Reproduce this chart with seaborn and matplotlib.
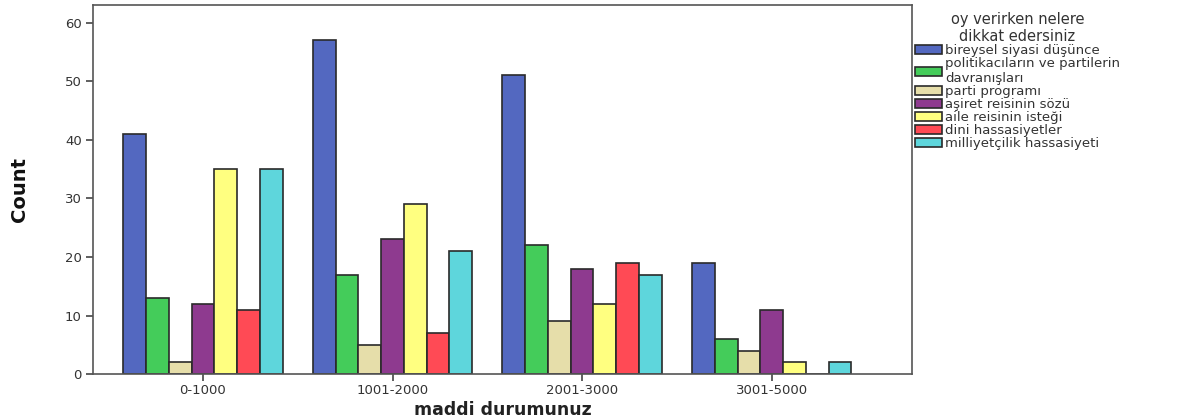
import numpy as np
import pandas as pd
import matplotlib
matplotlib.use("Agg")
import matplotlib.pyplot as plt
import seaborn as sns

# data
groups = ["0-1000", "1001-2000", "2001-3000", "3001-5000"]
reasons = ["bireysel siyasi düşünce",
           "politikacıların ve partilerin\ndavranışları",
           "parti programı",
           "aşiret reisinin sözü",
           "aile reisinin isteği",
           "dini hassasiyetler",
           "milliyetçilik hassasiyeti"]
bireysel = [41, 57, 51, 19]
politikaci = [13, 17, 22, 6]
program = [2, 5, 9, 4]
asiret = [12, 23, 18, 11]
aile = [35, 29, 12, 2]
dini = [11, 7, 19, 0]
milliyet = [35, 21, 17, 2]

colors = ["#5368c0", "#44cc5a", "#e6deaa", "#8e3a8f", "#ffff80", "#ff4a55", "#5ed6dc"]

series = [bireysel, politikaci, program, asiret, aile, dini, milliyet]
rows = []
for r, vals in zip(reasons, series):
    for g, v in zip(groups, vals):
        rows.append({"maddi durumunuz": g, "reason": r, "Count": v})
df = pd.DataFrame(rows)

sns.set_style("white")
plt.rcParams["font.family"] = ["DejaVu Sans"]

fig = plt.figure(figsize=(12.02, 4.19), dpi=100)
ax = fig.add_axes([0.0774, 0.107, 0.6813, 0.881])

sns.barplot(data=df, x="maddi durumunuz", y="Count", hue="reason",
            order=groups, hue_order=reasons, palette=colors,
            width=0.84, edgecolor="#2a2a2a", linewidth=1.2,
            saturation=1, ax=ax, legend=True)

ax.set_xlim(-0.58, 3.74)
ax.set_ylim(0, 63)
ax.set_yticks([0, 10, 20, 30, 40, 50, 60])
ax.tick_params(axis="both", direction="out", length=5, width=1.2,
               colors="#444444", labelsize=9.5, labelcolor="#333333",
               left=True, bottom=True, pad=3)
ax.tick_params(axis="x", pad=2)
for s in ax.spines.values():
    s.set_color("#555555")
    s.set_linewidth(1.2)

ax.set_xlabel("maddi durumunuz", fontsize=12.5, fontweight="bold", labelpad=3,
              color="#222222")
ax.set_ylabel("Count", fontsize=14, fontweight="bold", labelpad=26,
              color="#111111")

handles, labels = ax.get_legend_handles_labels()
ax.legend_.remove()
leg = fig.legend(handles, labels, title="oy verirken nelere\ndikkat edersiniz",
                 loc="upper left", bbox_to_anchor=(0.757, 0.985),
                 frameon=False, fontsize=9.5, title_fontsize=10.5,
                 handlelength=2.0, handleheight=0.75, handletextpad=0.25,
                 labelspacing=0.0, borderaxespad=0)
leg.get_title().set_multialignment("center")
for t in leg.get_texts():
    t.set_color("#333333")
leg.get_title().set_color("#333333")

fig.savefig("out.png", dpi=100)
